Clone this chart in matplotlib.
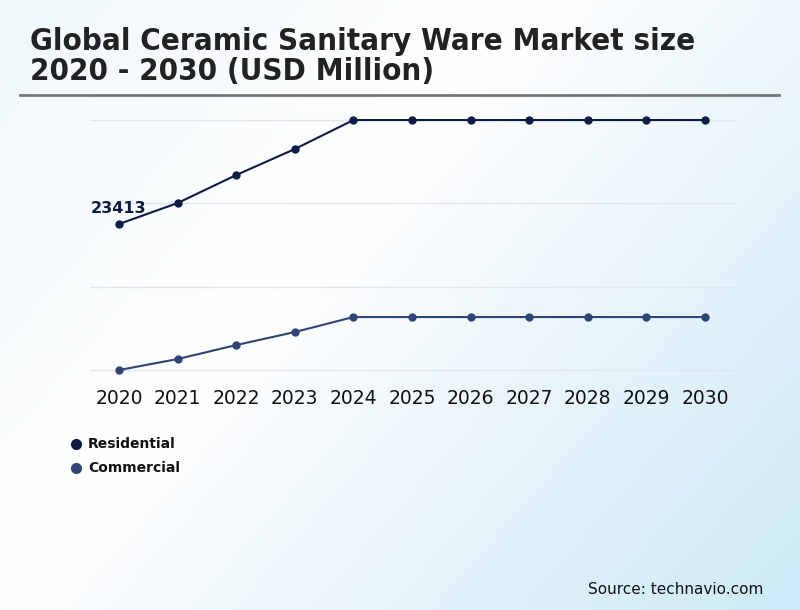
import numpy as np
import matplotlib.pyplot as plt
from matplotlib.colors import LinearSegmentedColormap

plt.rcParams['font.family'] = ['DejaVu Sans']

years = list(range(2020, 2031))
residential = [23413, 24670, 26350, 27910, 29650, 29650, 29650, 29650, 29650, 29650, 29650]
commercial = [14650, 15310, 16150, 16930, 17830, 17830, 17830, 17830, 17830, 17830, 17830]
series_names = ['Residential', 'Commercial']
series_colors = ['#0c1c45', '#2e4577']

fig = plt.figure(figsize=(8, 6.1), dpi=100)

# background gradient
bg = fig.add_axes([0, 0, 1, 1], zorder=-10)
gx, gy = np.meshgrid(np.linspace(0, 1, 400), np.linspace(0, 1, 305))
t = 0.6*gx + 0.4*gy
cmap = LinearSegmentedColormap.from_list(
    'bg', [(0, '#f0f8fc'), (0.4, '#ffffff'), (0.6, '#eef7fc'), (1, '#cdeaf8')])
bg.imshow(t, cmap=cmap, aspect='auto', extent=[0, 1, 0, 1], origin='upper', vmin=0, vmax=1)
bg.set_axis_off()

# title + rule
title_kw = dict(fontsize=22.4, fontweight='bold', color='#222222', va='center', ha='left',
                family='DejaVu Sans', fontstretch='condensed')
fig.text(30/800, 1 - 41/610, 'Global Ceramic Sanitary Ware Market size', **title_kw)
fig.text(30/800, 1 - 71/610, '2020 - 2030 (USD Million)', **title_kw)
fig.add_artist(plt.Line2D([20/800, 779/800], [1 - 95/610, 1 - 95/610], color='#777777', lw=2))

# main axes
k = 60.0
ax = fig.add_axes([90/800, 1 - 380/610, 646/800, 270/610])
ax.patch.set_alpha(0)
ax.set_xlim(2019.505, 2030.53)
ax.set_ylim(14653 - 10*k, 29653 + 10*k)
ax.set_yticks([14653, 14653 + 83.5*k, 14653 + 167*k, 29653])
ax.grid(axis='y', color='#e3e6ea', lw=1)
ax.set_axisbelow(True)
for s in ax.spines.values():
    s.set_visible(False)
ax.tick_params(axis='y', left=False, labelleft=False)
ax.tick_params(axis='x', bottom=False, labelsize=13.5, pad=3, colors='#111111')
ax.set_xticks(years)

for vals, name, col in zip([residential, commercial], series_names, series_colors):
    ax.plot(years, vals, color=col, lw=1.5, marker='o', markersize=5, clip_on=False, zorder=3)

ax.annotate(str(residential[0]), (years[0], residential[0]), xytext=(0, 11),
            textcoords='offset points', ha='center', va='center',
            fontsize=11.5, fontweight='bold', color=series_colors[0])

# legend
for i, (name, col) in enumerate(zip(series_names, series_colors)):
    yy = 1 - (444 + 24*i)/610
    fig.add_artist(plt.Line2D([76/800], [yy], marker='o', markersize=7, color=col, lw=0))
    fig.text(88/800, yy, name, fontsize=10, fontweight='bold', color='#111111', va='center', ha='left')

fig.text(763/800, 1 - 589/610, 'Source: technavio.com', fontsize=11, color='#111111',
         ha='right', va='center')

plt.savefig('out.png', dpi=100)
